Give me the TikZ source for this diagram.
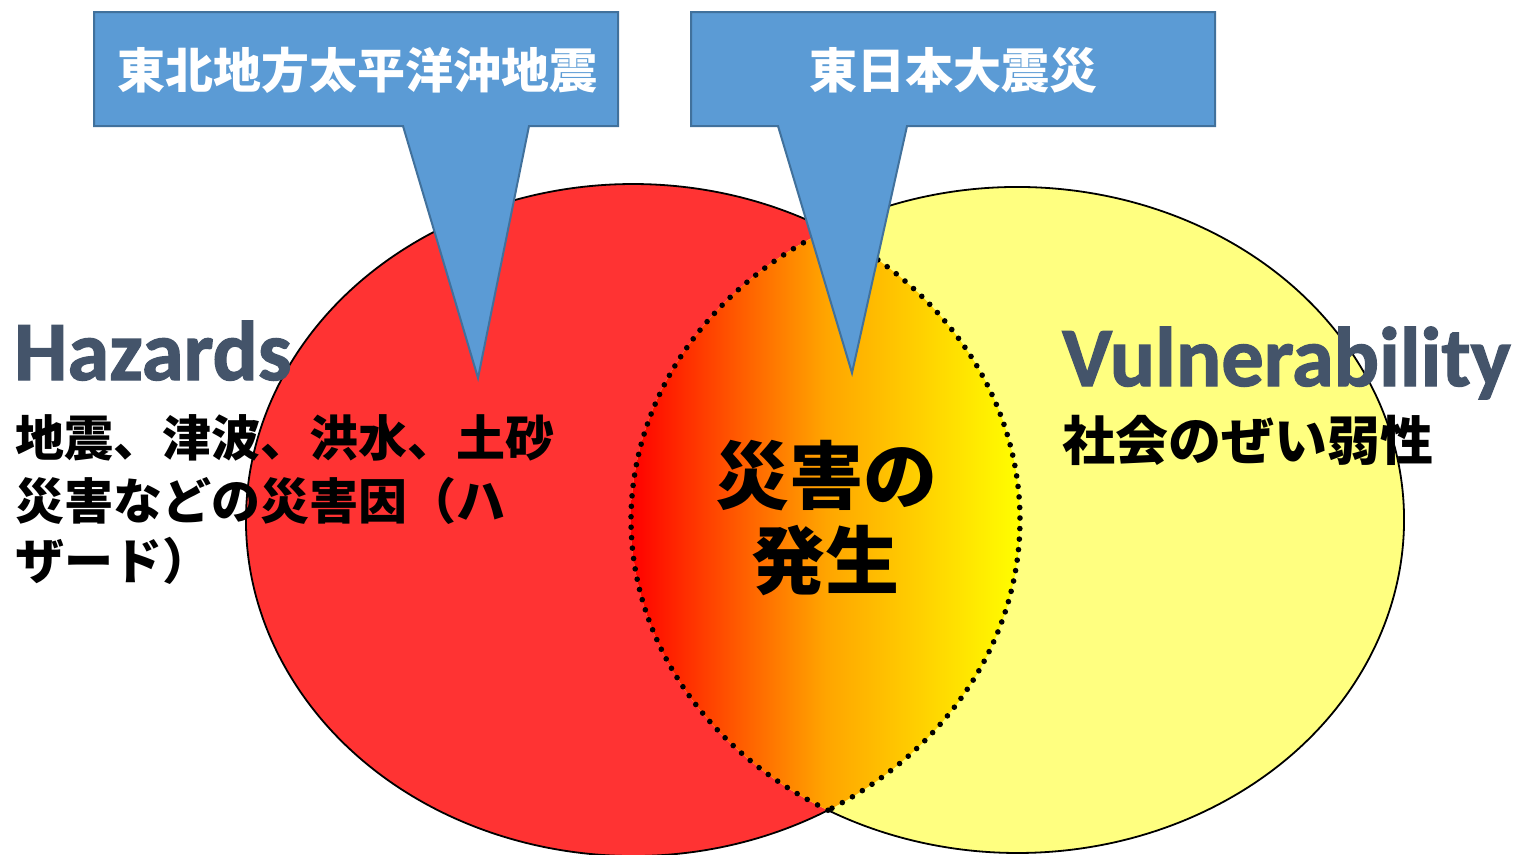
\documentclass[tikz,border=0pt]{standalone}
\usepackage{fontspec}
\newfontfamily\jp{Noto Sans CJK JP}
\newfontfamily\lat{Carlito Bold}[FakeBold=1.5]
\definecolor{redfill}{HTML}{FF3333}
\definecolor{yelfill}{HTML}{FFFF80}
\definecolor{callfill}{HTML}{5B9BD5}
\definecolor{calldraw}{HTML}{41719C}
\definecolor{titlecol}{HTML}{44546A}
\definecolor{orangemid}{HTML}{FFA500}
\begin{document}
\begin{tikzpicture}[x=1pt,y=-1pt,
  outline/.style={draw=black,line width=1.8pt},
  lensdot/.style={fill=black},
  callout/.style={fill=callfill,draw=calldraw,line width=2pt,line join=miter},
  calltext/.style={inner sep=0pt,anchor=base,text=white,font=\jp\bfseries\fontsize{48}{48}\selectfont},
  bigtitle/.style={inner sep=0pt,anchor=base west,text=titlecol,font=\lat\fontsize{84.5}{84.5}\selectfont},
  jptext/.style={inner sep=0pt,anchor=base west,text=black,font=\jp\bfseries\fontsize{49}{49}\selectfont},
  centertext/.style={inner sep=0pt,anchor=base,text=black,font=\jp\bfseries\fontsize{74}{74}\selectfont}]
\useasboundingbox (0,0) rectangle (1517,854);
% ellipses
\fill[redfill] (633,520) ellipse [x radius=387, y radius=336];
\fill[yelfill] (1017.5,520) ellipse [x radius=386.5, y radius=333];
% lens shading
\begin{scope}
  \clip (633,520) ellipse [x radius=387, y radius=336];
  \clip (1017.5,520) ellipse [x radius=386.5, y radius=333];
  \shade[left color=red, right color=yellow, middle color=orangemid] (631,180) rectangle (1021,860);
\end{scope}
% outer outlines (outside the lens)
\draw[outline] (633,520) ++(59.74:387 and 336) arc[start angle=59.74, end angle=300.26, x radius=387, y radius=336];
\draw[outline] (1017.5,520) ++(240.64:386.5 and 333) arc[start angle=240.64, end angle=479.36, x radius=386.5, y radius=333];
% lens dotted border: explicit dots
\foreach \a in {-59.74,-57.94,...,59.8}
  \fill[lensdot] (633,520) ++(\a:387 and 336) circle (2.8pt);
\foreach \a in {119.36,121.16,...,240.7}
  \fill[lensdot] (1017.5,520) ++(\a:386.5 and 333) circle (2.8pt);
% callouts
\draw[callout] (94,12) -- (618,12) -- (618,126) -- (529,126) -- (478,378) -- (403,126) -- (94,126) -- cycle;
\draw[callout] (691,12) -- (1215,12) -- (1215,126) -- (907,126) -- (852,373) -- (778,126) -- (691,126) -- cycle;
\node[calltext] (quake) at (357,88) {東北地方太平洋沖地震};
\node[calltext] (disaster) at (953,88) {東日本大震災};
% titles
\node[bigtitle] (haz) at (14,380) {Hazards};
\node[bigtitle] (vul) at (1062,386) {Vulnerability};
\node[jptext] (haz1) at (15,456) {地震、津波、洪水、土砂};
\node[jptext] (haz2) at (15,519) {災害などの災害因（ハ};
\node[jptext] (haz3) at (15,579) {ザード）};
\node[jptext,font=\jp\bfseries\fontsize{53}{53}\selectfont] (vul1) at (1062,460) {社会のぜい弱性};
\node[centertext] (c1) at (826,503) {災害の};
\node[centertext] (c2) at (825,588) {発生};
\end{tikzpicture}
\end{document}
